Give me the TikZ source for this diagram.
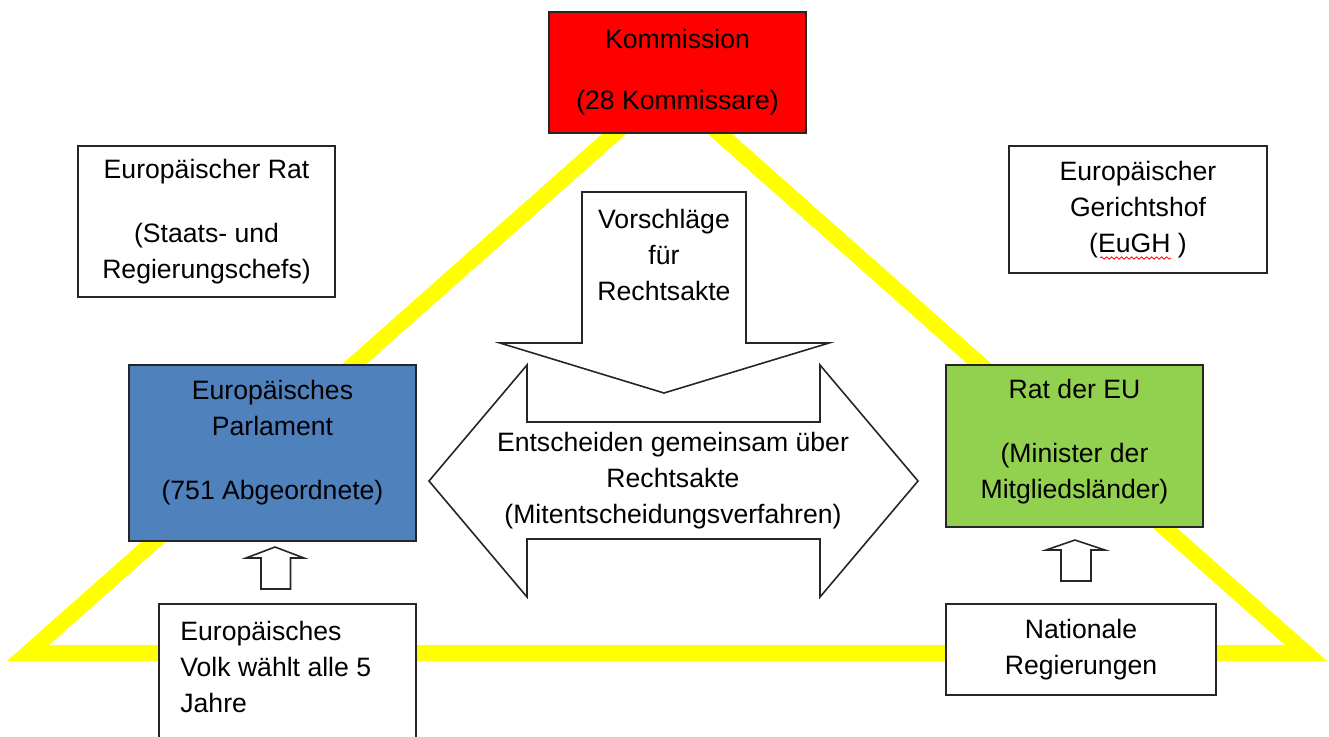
\documentclass[tikz,border=0pt]{standalone}
\usepackage{fontspec}
\setmainfont{Liberation Sans}
\usetikzlibrary{decorations.pathmorphing}
\definecolor{kommred}{RGB}{255,0,0}
\definecolor{parlblue}{RGB}{79,129,189}
\definecolor{ratgreen}{RGB}{146,208,80}
\definecolor{triyellow}{RGB}{255,255,0}

\begin{document}
\begin{tikzpicture}[x=0.5pt,y=-0.5pt]
\tikzstyle{box}=[draw=black!85,line width=0.8pt,fill=white,align=center,inner sep=0pt,font=\fontsize{13.3}{18}\selectfont]
\tikzstyle{txt}=[align=center,inner sep=0pt,font=\fontsize{13.3}{18}\selectfont]
\tikzstyle{blockarrow}=[draw=black!85,line width=0.8pt,fill=white,line join=miter]

\useasboundingbox (0,0) rectangle (1329,736);
\fill[white] (0,0) rectangle (1329,736);

% triangle behind everything
\draw[triyellow,line width=8pt,line join=miter] (28,653) -- (667,87) -- (1306,653) -- cycle;

% institutions
\node[box,fill=kommred,minimum width=128.5pt,minimum height=60.5pt] (komm) at (677.5,72.5) {Kommission\\[12.5pt](28 Kommissare)};
\node[box,minimum width=128.5pt,minimum height=75.5pt] (eurat) at (206.5,221.5) {Europäischer Rat\\[14pt](Staats- und\\Regierungschefs)};
\node[box,minimum width=129pt,minimum height=63.5pt] (eugh) at (1138,209.5) {Europäischer\\Gerichtshof\\(EuGH )};
\draw[red,line width=0.4pt,decorate,decoration={snake,segment length=2.5pt,amplitude=0.6pt}] (1100,258) -- (1171,258);

\node[box,fill=parlblue,minimum width=143.5pt,minimum height=88pt] (parl) at (272.5,453) {};
\node[txt] (parltxt) at (272.5,443) {Europäisches\\Parlament\\[14pt](751 Abgeordnete)};
\node[box,fill=ratgreen,minimum width=128.5pt,minimum height=81pt] (rat) at (1074.5,446) {};
\node[txt] (rattxt) at (1074.5,442) {Rat der EU\\[14pt](Minister der\\Mitgliedsländer)};

\node[box,minimum width=128.5pt,minimum height=78pt] (volk) at (287.5,682) {};
\node[txt,align=left,anchor=west] (volktxt) at (180,667) {Europäisches\\Volk wählt alle 5\\Jahre};
\node[box,minimum width=135pt,minimum height=45.5pt] (natreg) at (1081,649.5) {Nationale\\Regierungen};

% block arrows
\draw[blockarrow] (582,192) -- (746,192) -- (746,343) -- (829,343) -- (664,393) -- (500,343) -- (582,343) -- cycle;
\node[txt] (vorschl) at (664,255) {Vorschläge\\für\\Rechtsakte};
\draw[blockarrow] (429,481) -- (527,365) -- (527,422) -- (820,422) -- (820,365) -- (918,481) -- (820,597) -- (820,539) -- (527,539) -- (527,597) -- cycle;
\node[txt] (entsch) at (673,481) {Entscheiden gemeinsam über\\Rechtsakte\\(Mitentscheidungsverfahren)};

\draw[blockarrow] (261,589) -- (261,558) -- (246,558) -- (275,547) -- (304,558) -- (290.5,558) -- (290.5,589) -- cycle;
\draw[blockarrow] (1061,581) -- (1061,550) -- (1046,550) -- (1075,540) -- (1105,550) -- (1091,550) -- (1091,581) -- cycle;
\end{tikzpicture}
\end{document}
